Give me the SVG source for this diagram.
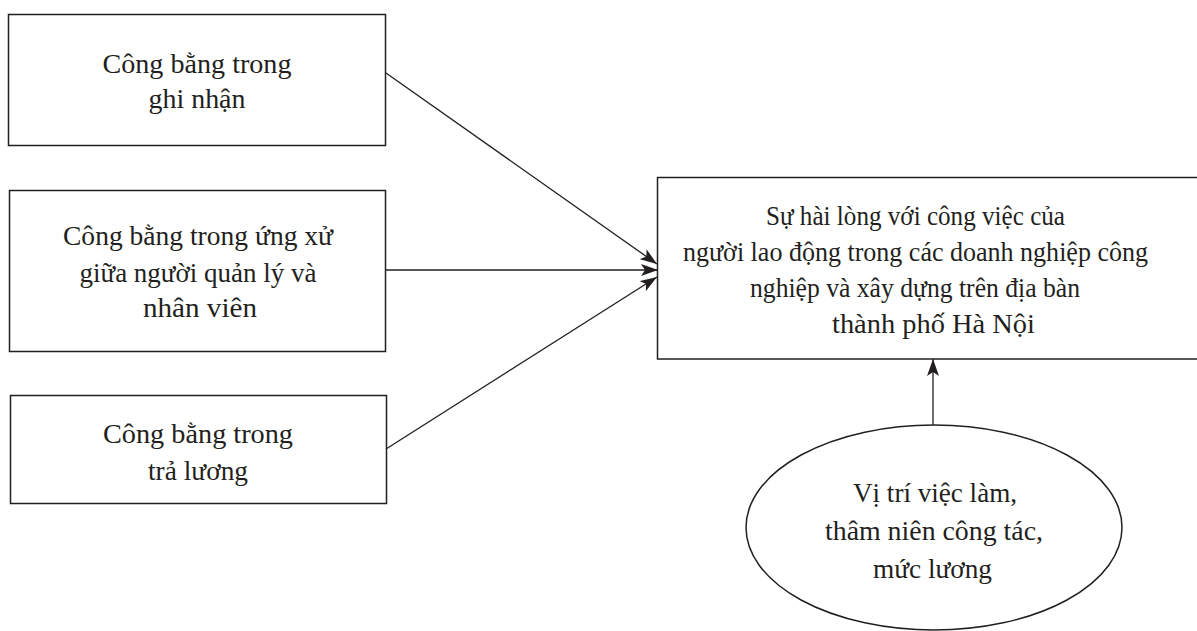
<svg xmlns="http://www.w3.org/2000/svg" width="1197" height="631" viewBox="0 0 1197 631">
<style>
.box{fill:#fff;stroke:#231f20;stroke-width:1.5}
.t{font-family:"Liberation Serif","DejaVu Serif",serif;font-size:27.5px;fill:#231f20;text-anchor:middle}
.c{stroke:#231f20;stroke-width:1.3;fill:none}
</style>
<defs>
<marker id="ah" markerUnits="userSpaceOnUse" markerWidth="18" markerHeight="12" viewBox="0 0 18 12" refX="17" refY="6" orient="auto">
<path d="M0,0 L17,6 L0,12 L4,6 Z" fill="#231f20"/>
</marker>
</defs>
<rect width="1197" height="631" fill="#fff"/>
<g id="n1">
<rect class="box" x="8.5" y="14.5" width="377" height="131"/>
<text class="t" x="197" y="73" textLength="189" lengthAdjust="spacingAndGlyphs">Công bằng trong</text>
<text class="t" x="197" y="108" textLength="97" lengthAdjust="spacingAndGlyphs">ghi nhận</text>
</g>
<g id="n2">
<rect class="box" x="9.5" y="190.5" width="376" height="161"/>
<text class="t" x="198" y="245" textLength="270" lengthAdjust="spacingAndGlyphs">Công bằng trong ứng xử</text>
<text class="t" x="198" y="282" textLength="237" lengthAdjust="spacingAndGlyphs">giữa người quản lý và</text>
<text class="t" x="200" y="317" textLength="114" lengthAdjust="spacingAndGlyphs">nhân viên</text>
</g>
<g id="n3">
<rect class="box" x="10.5" y="395.5" width="376" height="108"/>
<text class="t" x="198" y="443" textLength="190" lengthAdjust="spacingAndGlyphs">Công bằng trong</text>
<text class="t" x="198" y="480" textLength="100" lengthAdjust="spacingAndGlyphs">trả lương</text>
</g>
<g id="n4">
<rect class="box" x="657.5" y="177.5" width="545" height="181.5"/>
<text class="t" x="915.5" y="225" textLength="299" lengthAdjust="spacingAndGlyphs">Sự hài lòng với công việc của</text>
<text class="t" x="915.5" y="261" textLength="465" lengthAdjust="spacingAndGlyphs">người lao động trong các doanh nghiệp công</text>
<text class="t" x="915" y="297" textLength="330" lengthAdjust="spacingAndGlyphs">nghiệp và xây dựng trên địa bàn</text>
<text class="t" x="933.5" y="333" textLength="203" lengthAdjust="spacingAndGlyphs">thành phố Hà Nội</text>
</g>
<g id="n5">
<ellipse class="box" cx="934" cy="527.5" rx="188" ry="102.5"/>
<text class="t" x="935" y="502" textLength="164" lengthAdjust="spacingAndGlyphs">Vị trí việc làm,</text>
<text class="t" x="934" y="540" textLength="218" lengthAdjust="spacingAndGlyphs">thâm niên công tác,</text>
<text class="t" x="932.5" y="578" textLength="119" lengthAdjust="spacingAndGlyphs">mức lương</text>
</g>
<g id="connectors">
<line class="c" x1="386" y1="73" x2="657" y2="264" marker-end="url(#ah)"/>
<line class="c" x1="386" y1="270" x2="658" y2="270" marker-end="url(#ah)"/>
<line class="c" x1="386" y1="449" x2="657" y2="277" marker-end="url(#ah)"/>
<line class="c" x1="933" y1="425" x2="933" y2="359" marker-end="url(#ah)"/>
</g>
</svg>
